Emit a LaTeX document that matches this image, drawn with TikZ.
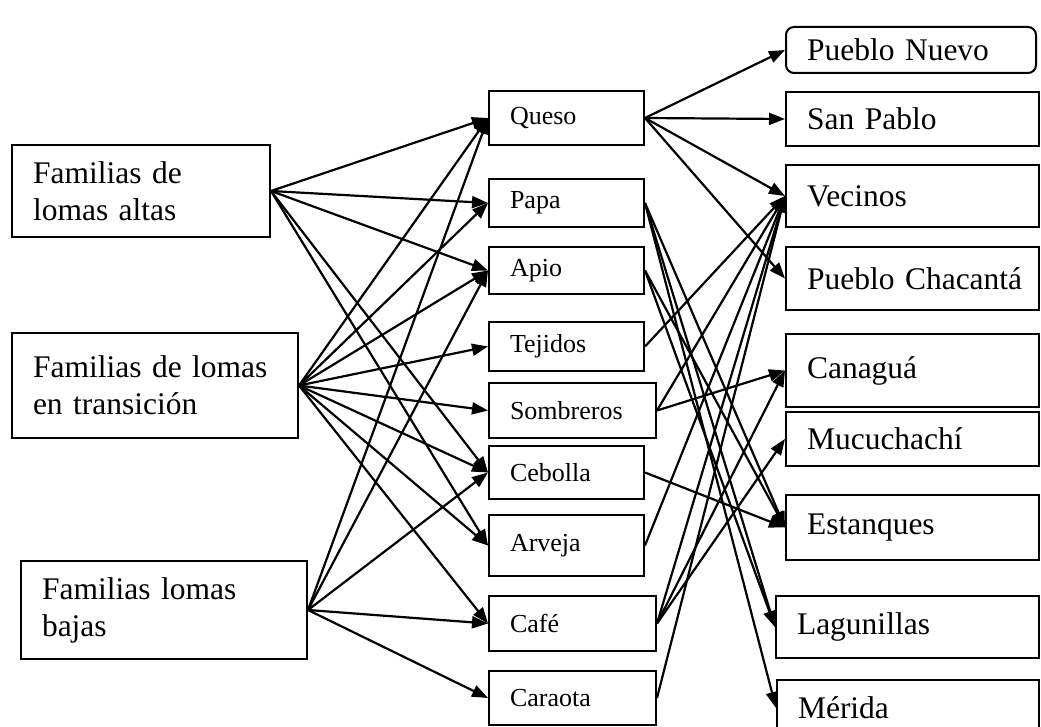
\documentclass[tikz,border=0pt]{standalone}
\usepackage{fontspec}
\setmainfont{Liberation Serif}
\usetikzlibrary{arrows.meta}
\begin{document}
\begin{tikzpicture}[x=1pt,y=-1pt,
  box/.style={draw, line width=2pt, inner xsep=21pt, inner ysep=0pt, align=left, anchor=center},
  big/.style={font=\fontsize{31.5}{37}\selectfont},
  mid/.style={font=\fontsize{26}{30}\selectfont},
  arr/.style={line width=2.2pt, -{Triangle[length=16pt,width=12pt]}},
]
\useasboundingbox (0,0) rectangle (1041,727);
% left column
\node[box,big,minimum width=258pt,minimum height=92pt,text width=216pt] (A) at (141,191) {\mbox{Familias de}\\\mbox{lomas altas}};
\node[box,big,minimum width=286pt,minimum height=105pt,text width=244pt] (B) at (155,385.5) {\mbox{Familias de lomas}\\\mbox{en transición}};
\node[box,big,minimum width=286pt,minimum height=98pt,text width=244pt] (C) at (164,610) {\mbox{Familias lomas}\\\mbox{bajas}};
% middle column
\node[box,mid,minimum width=155pt,minimum height=54pt,text width=113pt] (que) at (566.5,118) {\mbox{Queso}};
\node[box,mid,minimum width=155pt,minimum height=48pt,text width=113pt] (pap) at (566.5,203) {\mbox{Papa}};
\node[box,mid,minimum width=155pt,minimum height=47pt,text width=113pt] (api) at (566.5,270.5) {\mbox{Apio}};
\node[box,mid,minimum width=155pt,minimum height=49pt,text width=113pt] (tej) at (566.5,346.5) {\mbox{Tejidos}};
\node[box,mid,minimum width=167pt,minimum height=55pt,text width=125pt] (som) at (572.5,410.5) {\mbox{Sombreros}};
\node[box,mid,minimum width=155pt,minimum height=53pt,text width=113pt] (ceb) at (566.5,472.5) {\mbox{Cebolla}};
\node[box,mid,minimum width=155pt,minimum height=61pt,text width=113pt] (arv) at (566.5,545.5) {\mbox{Arveja}};
\node[box,mid,minimum width=167pt,minimum height=55pt,text width=125pt] (caf) at (572.5,623.5) {\mbox{Café}};
\node[box,mid,minimum width=167pt,minimum height=54pt,text width=125pt] (car) at (572.5,698) {\mbox{Caraota}};
% right column
\node[box,big,rounded corners=8pt,minimum width=250pt,minimum height=46pt,text width=208pt] (pn) at (911,50) {\mbox{Pueblo Nuevo}};
\node[box,big,minimum width=253pt,minimum height=54pt,text width=211pt] (sp) at (912.5,119) {\mbox{San Pablo}};
\node[box,big,minimum width=253pt,minimum height=62pt,text width=211pt] (vec) at (912.5,196) {\mbox{Vecinos}};
\node[box,big,minimum width=253pt,minimum height=63pt,text width=211pt] (pch) at (912.5,278.5) {\mbox{Pueblo Chacantá}};
\node[box,big,minimum width=253pt,minimum height=73pt,text width=211pt] (can) at (912.5,370.5) {\mbox{Canaguá}};
\node[box,big,minimum width=253pt,minimum height=54pt,text width=211pt] (muc) at (912.5,439) {\mbox{Mucuchachí}};
\node[box,big,minimum width=253pt,minimum height=65pt,text width=211pt] (est) at (912.5,527.5) {\mbox{Estanques}};
\node[box,big,minimum width=263pt,minimum height=62pt,text width=221pt] (lag) at (907.5,627) {\mbox{Lagunillas}};
\node[box,big,minimum width=262pt,minimum height=56pt,text width=220pt] (mer) at (908,708) {\mbox{Mérida}};
% left -> middle
\foreach \t in {que,pap,api,ceb,arv} \draw[arr] (A.east) -- (\t.west);
\foreach \t in {que,pap,api,tej,som,ceb,arv,caf} \draw[arr] (B.east) -- (\t.west);
\foreach \t in {que,api,ceb,caf,car} \draw[arr] (C.east) -- (\t.west);
% middle -> right
\foreach \t in {pn,sp,vec,pch} \draw[arr] (que.east) -- (\t.west);
\foreach \t in {est,lag,mer} \draw[arr] (pap.east) -- (\t.west);
\foreach \t in {est,lag} \draw[arr] (api.east) -- (\t.west);
\draw[arr] (tej.east) -- (vec.west);
\foreach \t in {vec,can} \draw[arr] (som.east) -- (\t.west);
\draw[arr] (ceb.east) -- (est.west);
\draw[arr] (arv.east) -- (vec.west);
\foreach \t in {vec,can,muc} \draw[arr] (caf.east) -- (\t.west);
\draw[arr] (car.east) -- (vec.west);
\end{tikzpicture}
\end{document}
